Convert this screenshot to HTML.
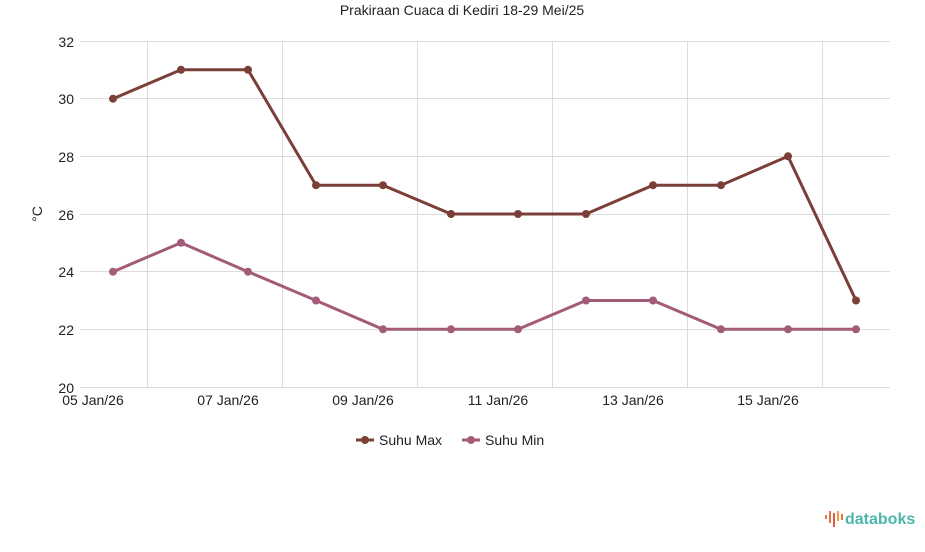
<!DOCTYPE html>
<html><head><meta charset="utf-8"><style>
body{margin:0;background:#fff;}
svg text{font-family:"Liberation Sans",sans-serif;fill:#222;}
</style></head><body>
<svg width="925" height="547" viewBox="0 0 925 547" xmlns="http://www.w3.org/2000/svg">
<text x="462" y="15" font-size="14" text-anchor="middle">Prakiraan Cuaca di Kediri 18-29 Mei/25</text>
<g stroke="#dcdcdc" stroke-width="1">
<line x1="80" x2="890" y1="41.5" y2="41.5"/>
<line x1="80" x2="890" y1="98.5" y2="98.5"/>
<line x1="80" x2="890" y1="156.5" y2="156.5"/>
<line x1="80" x2="890" y1="214.5" y2="214.5"/>
<line x1="80" x2="890" y1="271.5" y2="271.5"/>
<line x1="80" x2="890" y1="329.5" y2="329.5"/>
<line x1="80" x2="890" y1="387.5" y2="387.5"/>
<line x1="147.5" x2="147.5" y1="41" y2="387"/>
<line x1="282.5" x2="282.5" y1="41" y2="387"/>
<line x1="417.5" x2="417.5" y1="41" y2="387"/>
<line x1="552.5" x2="552.5" y1="41" y2="387"/>
<line x1="687.5" x2="687.5" y1="41" y2="387"/>
<line x1="822.5" x2="822.5" y1="41" y2="387"/>
</g>
<g font-size="14" text-anchor="end">
<text x="74" y="47">32</text><text x="74" y="104">30</text><text x="74" y="162">28</text>
<text x="74" y="220">26</text><text x="74" y="277">24</text><text x="74" y="335">22</text><text x="74" y="393">20</text>
</g>
<text x="42" y="214" font-size="14" text-anchor="middle" transform="rotate(-90 42 214)">°C</text>
<g font-size="14" text-anchor="middle">
<text x="93" y="405">05 Jan/26</text><text x="228" y="405">07 Jan/26</text><text x="363" y="405">09 Jan/26</text>
<text x="498" y="405">11 Jan/26</text><text x="633" y="405">13 Jan/26</text><text x="768" y="405">15 Jan/26</text>
</g>
<polyline fill="none" stroke="#7b3f38" stroke-width="3" points="113,98.7 181,69.8 248,69.8 316,185.2 383,185.2 451,214 518,214 586,214 653,185.2 721,185.2 788,156.3 856,300.5"/>
<g fill="#7b3f38">
<circle cx="113" cy="98.7" r="4"/><circle cx="181" cy="69.8" r="4"/><circle cx="248" cy="69.8" r="4"/><circle cx="316" cy="185.2" r="4"/><circle cx="383" cy="185.2" r="4"/><circle cx="451" cy="214" r="4"/><circle cx="518" cy="214" r="4"/><circle cx="586" cy="214" r="4"/><circle cx="653" cy="185.2" r="4"/><circle cx="721" cy="185.2" r="4"/><circle cx="788" cy="156.3" r="4"/><circle cx="856" cy="300.5" r="4"/>
</g>
<polyline fill="none" stroke="#a35c78" stroke-width="3" points="113,271.7 181,242.8 248,271.7 316,300.5 383,329.3 451,329.3 518,329.3 586,300.5 653,300.5 721,329.3 788,329.3 856,329.3"/>
<g fill="#a35c78">
<circle cx="113" cy="271.7" r="4"/><circle cx="181" cy="242.8" r="4"/><circle cx="248" cy="271.7" r="4"/><circle cx="316" cy="300.5" r="4"/><circle cx="383" cy="329.3" r="4"/><circle cx="451" cy="329.3" r="4"/><circle cx="518" cy="329.3" r="4"/><circle cx="586" cy="300.5" r="4"/><circle cx="653" cy="300.5" r="4"/><circle cx="721" cy="329.3" r="4"/><circle cx="788" cy="329.3" r="4"/><circle cx="856" cy="329.3" r="4"/>
</g>
<line x1="356" x2="374" y1="440" y2="440" stroke="#7b3f38" stroke-width="3"/><circle cx="365" cy="440" r="4" fill="#7b3f38"/>
<text x="379" y="445" font-size="14">Suhu Max</text>
<line x1="462" x2="480" y1="440" y2="440" stroke="#a35c78" stroke-width="3"/><circle cx="471" cy="440" r="4" fill="#a35c78"/>
<text x="485" y="445" font-size="14">Suhu Min</text>
<g>
<rect x="825" y="515" width="2" height="4" fill="#e8734a"/>
<rect x="829" y="511" width="2" height="12" fill="#e8734a"/>
<rect x="833" y="513" width="2" height="14" fill="#e25a4a"/>
<rect x="837" y="511" width="2" height="10" fill="#f0a040"/>
<rect x="841" y="514" width="2" height="6" fill="#e8734a"/>
</g>
<text x="845" y="524" font-size="16" font-weight="bold" style="fill:#4bb5ad">databoks</text>
</svg>
</body></html>
